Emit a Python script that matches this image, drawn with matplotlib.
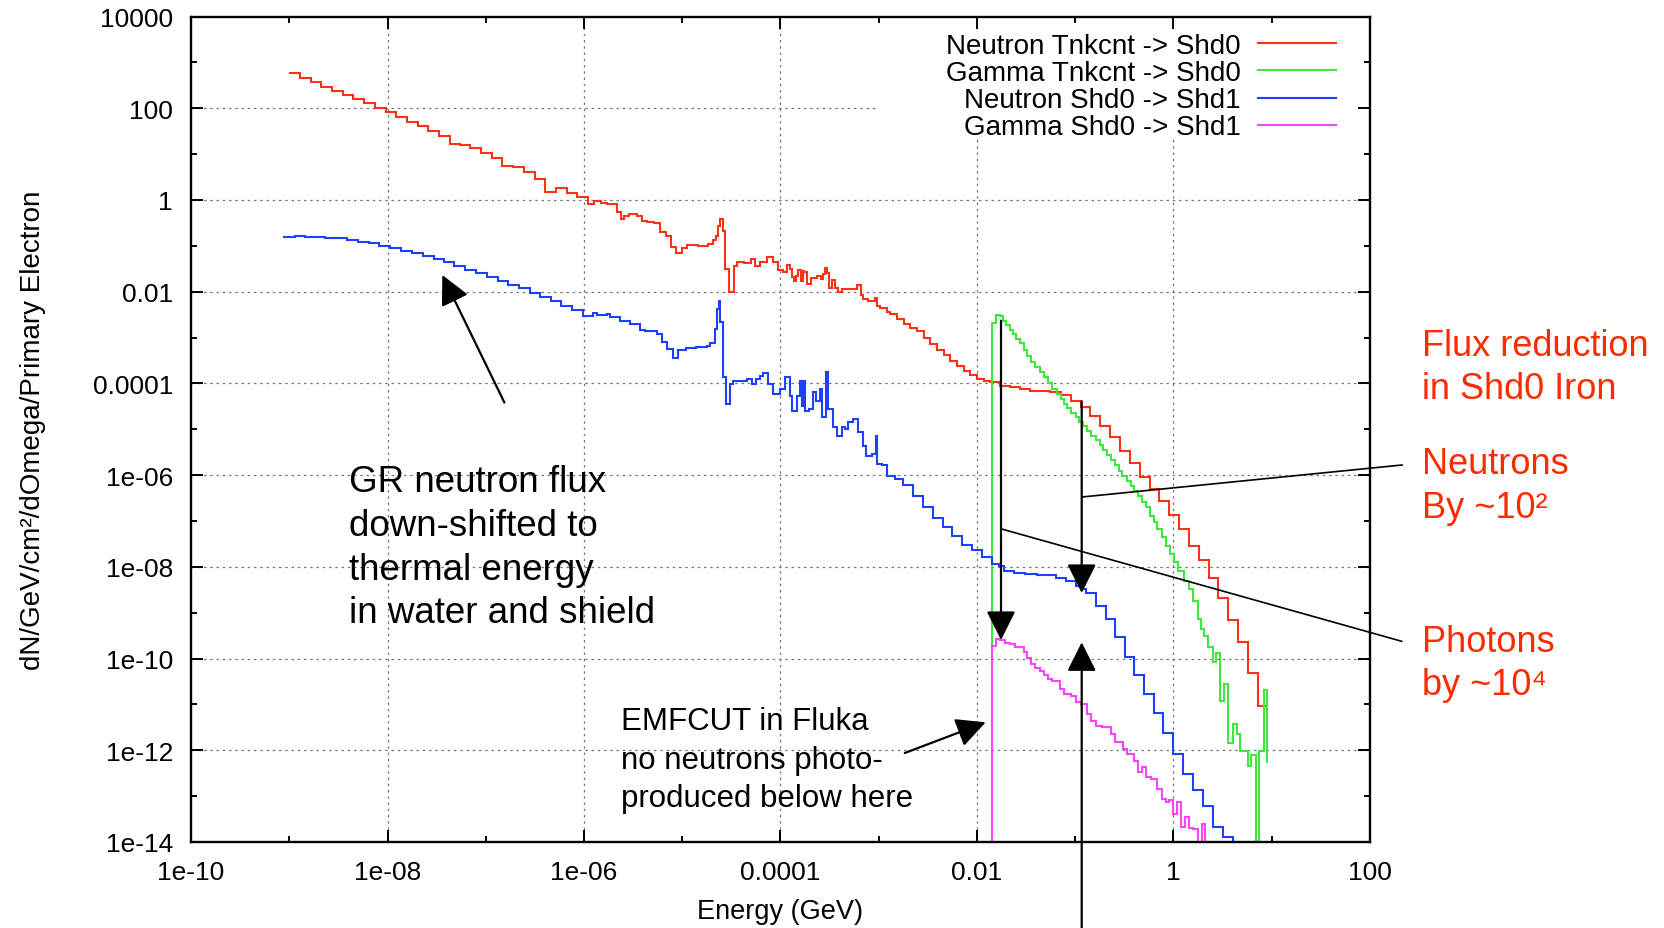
import numpy as np
import matplotlib
matplotlib.use("Agg")
import matplotlib.pyplot as plt
from matplotlib.ticker import FixedLocator, FuncFormatter
from matplotlib.patches import Rectangle
from matplotlib.lines import Line2D

plt.rcParams['font.family'] = ['Liberation Sans', 'DejaVu Sans']

W, H = 1665, 929

# all spectra are stored as log10(bin edges in GeV) and log10(flux per bin)
# neutron Tnkcnt -> Shd0
red_logE = [-9.0, -8.891, -8.782, -8.673, -8.565, -8.456, -8.347, -8.238, -8.129, -8.02,
            -7.912, -7.803, -7.694, -7.585, -7.476, -7.367, -7.259, -7.156, -7.048, -6.939,
            -6.830, -6.721, -6.612, -6.5, -6.395, -6.286, -6.177, -6.068, -5.959,
            -5.898, -5.830, -5.762, -5.660, -5.626, -5.592, -5.541, -5.456, -5.405, -5.354,
            -5.286, -5.224, -5.167, -5.116, -5.065, -5.007, -4.952, -4.844, -4.741, -4.690,
            -4.656, -4.633, -4.612, -4.588, -4.565, -4.524, -4.469, -4.442, -4.367, -4.299,
            -4.259, -4.204, -4.136, -4.078, -4.027, -3.976, -3.932, -3.905,
            -3.888, -3.864, -3.844, -3.820, -3.796, -3.776, -3.759, -3.735, -3.694, -3.633,
            -3.592, -3.571, -3.548, -3.531, -3.503, -3.480, -3.446, -3.412, -3.378, -3.293,
            -3.224, -3.184, -3.156, -3.105, -3.037, -3.020, -2.986, -2.918, -2.884, -2.816,
            -2.748, -2.680, -2.612, -2.544, -2.476, -2.408, -2.340, -2.272, -2.204, -2.136,
            -2.068, -2.0, -1.932, -1.864, -1.762, -1.660,
            -1.558, -1.456, -1.252, -1.150, -1.048, -0.946, -0.850, -0.748, -0.646, -0.544,
            -0.442, -0.340, -0.238, -0.143, -0.044, 0.054, 0.156, 0.255, 0.357, 0.456,
            0.551, 0.653, 0.755, 0.857, 0.952, 0.958]
red_logF = [2.763, 2.669, 2.574, 2.472, 2.385, 2.291, 2.196, 2.109, 2.007, 1.913,
            1.811, 1.709, 1.615, 1.513, 1.390, 1.222, 1.208, 1.128, 1.019, 0.924,
            0.750, 0.714, 0.619, 0.459, 0.183, 0.256, 0.161, 0.060,
            -0.086, -0.020, -0.064, -0.086, -0.267, -0.413, -0.355, -0.304, -0.340, -0.449,
            -0.485, -0.507, -0.689, -0.791, -1.031, -1.154, -1.052, -0.980, -0.994, -0.958,
            -0.871, -0.776, -0.558, -0.413, -0.667, -1.503, -2.012, -1.430, -1.358, -1.379,
            -1.285, -1.430, -1.358, -1.249, -1.358, -1.517, -1.561, -1.416,
            -1.514, -1.674, -1.768, -1.659, -1.529, -1.768, -1.551, -1.565, -1.826, -1.710,
            -1.659, -1.717, -1.609, -1.478, -1.587, -1.913, -1.746, -1.913, -2.0, -1.949,
            -1.935, -1.862, -2.080, -2.152, -2.203, -2.130, -2.312, -2.348, -2.442, -2.493,
            -2.587, -2.710, -2.783, -2.855, -3.0, -3.145, -3.268, -3.384, -3.507, -3.630,
            -3.725, -3.812, -3.906, -3.942, -3.978, -4.051,
            -4.087, -4.124, -4.16, -4.196, -4.255, -4.378, -4.524, -4.705, -4.924, -5.178,
            -5.469, -5.745, -6.036, -6.305, -6.575, -6.873, -7.178, -7.542, -7.847, -8.239,
            -8.674, -9.167, -9.638, -10.319, -11.043, -11.7]

# gamma Tnkcnt -> Shd0
green_logE = [-1.9, -1.847, -1.803, -1.769, -1.735, -1.701, -1.667, -1.633, -1.599, -1.565,
              -1.524, -1.490, -1.449, -1.405, -1.361, -1.320, -1.279, -1.235, -1.190, -1.150,
              -1.116, -1.082, -1.041, -0.997, -0.963, -0.918, -0.878, -0.837, -0.793, -0.748,
              -0.714, -0.673, -0.633, -0.599, -0.554, -0.520, -0.476, -0.435, -0.401, -0.361,
              -0.316, -0.282, -0.238, -0.197, -0.163, -0.119, -0.078, -0.034, 0.007, 0.041,
              0.102, 0.160, 0.194, 0.245, 0.279, 0.313, 0.354, 0.398, 0.432, 0.476,
              0.517, 0.558, 0.602, 0.646, 0.680, 0.755, 0.789, 0.840, 0.874, 0.925,
              0.952, 0.966]
green_logF = [-16,
              -2.691, -2.509, -2.524, -2.633, -2.727, -2.829, -2.924, -3.033, -3.127, -3.273,
              -3.396, -3.527, -3.651, -3.760, -3.869, -4.0, -4.124, -4.233, -4.342, -4.451,
              -4.545, -4.647, -4.742, -4.836, -4.924, -5.033, -5.142, -5.229, -5.345, -5.447,
              -5.564, -5.665, -5.782, -5.905, -6.015, -6.124, -6.233, -6.342, -6.451, -6.582,
              -6.705, -6.887, -7.033, -7.178, -7.36, -7.542, -7.724, -7.905, -8.094, -8.312,
              -8.493, -8.746, -9.13, -9.362, -9.507, -9.739, -10.072, -9.87, -10.92, -10.558,
              -11.84, -11.428, -11.645, -12.007, -12.348, -12.101, -16, -12.007, -10.681, -12.246]

# neutron Shd0 -> Shd1
blue_logE = [-9.061, -8.942, -8.840, -8.738, -8.636, -8.517, -8.408, -8.296, -8.187, -8.082,
             -7.973, -7.864, -7.752, -7.643, -7.531, -7.429, -7.320, -7.207, -7.099, -6.986,
             -6.878, -6.776, -6.663, -6.554, -6.449, -6.340, -6.231, -6.119, -6.010, -5.905,
             -5.864,
             -5.762, -5.737, -5.635, -5.533, -5.432, -5.381, -5.262, -5.211, -5.160, -5.099,
             -5.042, -4.957, -4.855, -4.753, -4.719, -4.668, -4.645, -4.624, -4.611, -4.590,
             -4.556, -4.509, -4.482, -4.346, -4.285, -4.251, -4.210, -4.176, -4.126, -4.075,
             -4.007, -3.956, -3.905, -3.878, -3.837, -3.803, -3.786, -3.769, -3.746, -3.708,
             -3.668, -3.634, -3.600, -3.573, -3.539, -3.515, -3.464, -3.423, -3.379, -3.345,
             -3.311, -3.260, -3.209, -3.159, -3.125, -3.064, -3.030, -3.016, -2.972, -2.921,
             -2.836, -2.75, -2.65, -2.55, -2.45, -2.35, -2.25, -2.15, -2.05, -1.95,
             -1.85, -1.78,
             -1.728, -1.626, -1.507, -1.388, -1.201, -1.099, -0.997, -0.929, -0.895, -0.793,
             -0.690, -0.599, -0.497, -0.401, -0.299, -0.197, -0.102, 0.0, 0.099, 0.201,
             0.303, 0.398, 0.5, 0.602, 0.704]
blue_logF = [-0.798, -0.783, -0.798, -0.813, -0.820, -0.834, -0.878, -0.907, -0.943, -0.994,
             -1.045, -1.103, -1.161, -1.227, -1.285, -1.358, -1.430, -1.517, -1.597, -1.685,
             -1.757, -1.844, -1.924, -2.019, -2.106, -2.193, -2.302, -2.397, -2.520, -2.462,
             -2.498,
             -2.485, -2.558, -2.631, -2.703, -2.827, -2.849, -2.921, -3.103, -3.249, -3.452,
             -3.263, -3.234, -3.212, -3.176, -3.118, -2.812, -2.376, -2.195, -2.667, -3.866,
             -4.448, -4.012, -3.939, -3.903, -4.012, -3.903, -3.830, -3.779, -4.012, -4.230,
             -4.121, -3.866, -4.266, -4.593, -4.266, -3.939, -4.484, -3.939, -4.593, -4.557,
             -4.194, -4.375, -4.121, -4.738, -3.743, -4.557, -4.956, -5.138, -4.956, -4.993,
             -4.847, -4.775, -5.065, -5.356, -5.574, -5.538, -5.138, -5.756, -5.778, -6.010,
             -6.08, -6.22, -6.45, -6.70, -6.93, -7.14, -7.33, -7.52, -7.64, -7.78,
             -7.93, -7.99,
             -8.080, -8.130, -8.167, -8.188, -8.239, -8.312, -8.420, -8.478, -8.580, -8.855,
             -9.145, -9.522, -9.957, -10.362, -10.783, -11.188, -11.623, -12.080, -12.514, -12.877,
             -13.217, -13.674, -13.891, -16]

# gamma Shd0 -> Shd1
mag_logE = [-1.9, -1.847, -1.803, -1.762, -1.711, -1.660, -1.609, -1.524, -1.490, -1.449,
            -1.405, -1.361, -1.320, -1.279, -1.235, -1.160, -1.116, -1.048, -0.997, -0.946,
            -0.884, -0.844, -0.793, -0.724, -0.639, -0.599, -0.510, -0.469, -0.401, -0.361,
            -0.316, -0.282, -0.231, -0.163, -0.112, -0.078, -0.044, -0.010, 0.034, 0.075,
            0.116, 0.160, 0.201, 0.245, 0.286, 0.320, 0.364]
mag_logF = [-16,
            -9.725, -9.565, -9.594, -9.652, -9.688, -9.739, -9.855, -9.978, -10.123, -10.196,
            -10.268, -10.362, -10.449, -10.486, -10.667, -10.775, -10.812, -10.957, -10.993, -11.21,
            -11.355, -11.464, -11.5, -11.645, -11.826, -11.971, -12.08, -12.225, -12.478, -12.37,
            -12.587, -12.623, -12.841, -13.058, -13.13, -13.094, -13.384, -13.13, -13.674, -13.457,
            -13.696, -13.71, -16, -13.601, -16]

labels = ["Neutron Tnkcnt -> Shd0", "Gamma Tnkcnt -> Shd0",
          "Neutron Shd0 -> Shd1", "Gamma Shd0 -> Shd1"]
colors = ["#ff3218", "#3ee83e", "#1e40ff", "#ff44ff"]

x_major = [1e-10, 1e-8, 1e-6, 1e-4, 1e-2, 1, 100]
x_minor = [1e-9, 1e-7, 1e-5, 1e-3, 1e-1, 10]
y_major = [1e-14, 1e-12, 1e-10, 1e-8, 1e-6, 1e-4, 1e-2, 1, 100, 1e4]
y_minor = [1e-13, 1e-11, 1e-9, 1e-7, 1e-5, 1e-3, 1e-1, 10, 1000]

gr_lines = ["GR neutron flux", "down-shifted to", "thermal energy", "in water and shield"]
emf_lines = ["EMFCUT in Fluka", "no neutrons photo-", "produced below here"]
red_notes = [("Flux reduction", 355.7), ("in Shd0 Iron", 399),
             ("Neutrons", 474), ("By ~10\u00b2", 518),
             ("Photons", 652), ("by ~10\u2074", 695)]


def fx(x):
    return x / W


def fy(y):
    return 1 - y / H


fig = plt.figure(figsize=(W / 100, H / 100), dpi=100)
ax = fig.add_axes([fx(191), fy(843), (1370 - 191) / W, (843 - 17.5) / H])
ax.set_xscale('log')
ax.set_yscale('log')
ax.set_xlim(1e-10, 100)
ax.set_ylim(1e-14, 1e4)

# dotted grid at the labelled ticks (drawn by hand so the key box can hide it)
for v in x_major[1:-1]:
    ax.axvline(v, color='#777777', lw=0.9, ls=(0, (2, 3)), zorder=0.5)
for v in y_major[1:-1]:
    ax.axhline(v, color='#777777', lw=0.9, ls=(0, (2, 3)), zorder=0.5)
ax.add_patch(Rectangle((0.581, 0.854), 0.419, 0.146, transform=ax.transAxes,
                       facecolor='white', edgecolor='none', zorder=1))

series = [(red_logE, red_logF), (green_logE, green_logF),
          (blue_logE, blue_logF), (mag_logE, mag_logF)]
handles = []
for (e, v), c, lab in zip(series, colors, labels):
    ax.stairs(10.0 ** np.array(v), 10.0 ** np.array(e), baseline=None,
              color=c, lw=1.5, zorder=2)
    handles.append(Line2D([], [], color=c, lw=1.5))

ax.xaxis.set_major_locator(FixedLocator(x_major))
ax.xaxis.set_minor_locator(FixedLocator(x_minor))
ax.yaxis.set_major_locator(FixedLocator(y_major))
ax.yaxis.set_minor_locator(FixedLocator(y_minor))
fmt = FuncFormatter(lambda v, p: f'{v:g}')
ax.xaxis.set_major_formatter(fmt)
ax.yaxis.set_major_formatter(fmt)
ax.xaxis.set_minor_formatter(FuncFormatter(lambda v, p: ''))
ax.yaxis.set_minor_formatter(FuncFormatter(lambda v, p: ''))
ax.tick_params(which='both', direction='in', top=True, right=True, width=1.4,
               labelsize=19, pad=13)
ax.tick_params(which='major', length=8.4)
ax.tick_params(which='minor', length=4.3)
for s in ax.spines.values():
    s.set_linewidth(1.7)

ax.set_xlabel('Energy (GeV)', fontsize=19.5)
ax.xaxis.set_label_coords(0.5, -0.068)
ax.set_ylabel('dN/GeV/cm\u00b2/dOmega/Primary Electron', fontsize=20)
ax.yaxis.set_label_coords(-0.123, 0.5)

ax.legend(handles, labels, loc='upper right', bbox_to_anchor=(fx(1336), fy(34)),
          bbox_transform=fig.transFigure, frameon=False, markerfirst=False,
          fontsize=20, handlelength=2.8, handletextpad=0.64, labelspacing=0.04,
          borderpad=0, borderaxespad=0)

# annotations
for i, line in enumerate(gr_lines):
    fig.text(fx(349), fy(491.7 + 43.9 * i), line, fontsize=26.5, va='baseline')
for i, line in enumerate(emf_lines):
    fig.text(fx(621), fy(730 + 38.5 * i), line, fontsize=22.5, va='baseline')
for line, yb in red_notes:
    fig.text(fx(1421.7), fy(yb), line, fontsize=26, va='baseline', color='#ff2a00')

arrow_style = dict(arrowstyle='-|>,head_length=0.9,head_width=0.45', color='black',
                   lw=1.6, shrinkA=0, shrinkB=0, mutation_scale=20)
arrows = [((504.4, 403.5), (442.3, 276)),
          ((904.8, 754), (985.7, 723.3)),
          ((1001, 321.7), (1001, 641)),
          ((1081.7, 402.3), (1081.7, 594)),
          ((1081.7, 960), (1081.7, 643.3))]
for (x0, y0), (x1, y1) in arrows:
    ax.annotate('', xy=(fx(x1), fy(y1)), xycoords='figure fraction',
                xytext=(fx(x0), fy(y0)), textcoords='figure fraction',
                arrowprops=arrow_style)

fig.add_artist(Line2D([fx(1082), fx(1402)], [fy(498), fy(466)], color='black', lw=1.2))
fig.add_artist(Line2D([fx(1001.7), fx(1401.7)], [fy(530), fy(642.3)], color='black', lw=1.2))

fig.savefig('out.png', dpi=100)
